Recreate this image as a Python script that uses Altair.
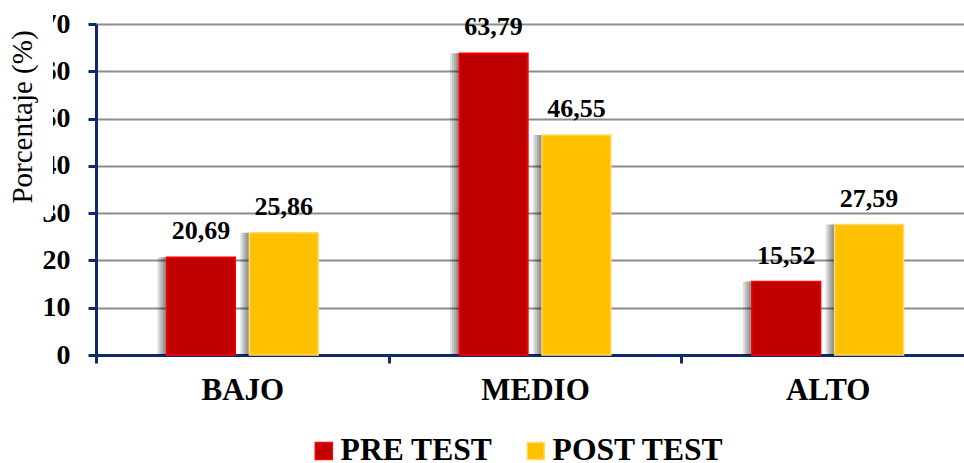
import altair as alt
import pandas as pd

# Niveles y series
niveles = ["BAJO", "MEDIO", "ALTO"]
series = ["PRE TEST", "POST TEST"]
pre_test = [20.69, 63.79, 15.52]
post_test = [25.86, 46.55, 27.59]
y_ticks = [0, 10, 20, 30, 40, 50, 60, 70]

colores_relleno = ["#C00000", "#FFC000"]
colores_borde = ["#FF0000", "#FFD966"]

FONT = "Liberation Serif"
NAVY = "#0E2A6B"

rows = []
for i, n in enumerate(niveles):
    rows.append({"nivel": n, "serie": series[0], "valor": pre_test[i]})
    rows.append({"nivel": n, "serie": series[1], "valor": post_test[i]})
df = pd.DataFrame(rows)

x_enc = alt.X(
    "nivel:N",
    sort=niveles,
    scale=alt.Scale(domain=niveles, paddingInner=0, paddingOuter=0, range=[0, 878]),
    axis=alt.Axis(
        title=None,
        labelAngle=0,
        domainColor=NAVY,
        domainWidth=3,
        tickColor=NAVY,
        tickWidth=3,
        tickSize=8,
        tickBand="extent",
        labelFont=FONT,
        labelFontSize=31,
        labelFontWeight="bold",
        labelColor="black",
        labelPadding=12,
    ),
)


def desplazamiento(align):
    # series offset inside each band; align < 0.5 slides the pair to the left
    return alt.XOffset(
        "serie:N",
        sort=series,
        scale=alt.Scale(domain=series, paddingInner=0.17, paddingOuter=0.85, align=align),
    )


xoff_enc = desplazamiento(0.5)
y_enc = alt.Y(
    "valor:Q",
    scale=alt.Scale(domain=[0, 70], nice=False),
    axis=alt.Axis(
        title=None,
        values=y_ticks,
        grid=True,
        gridColor="#8C8C8C",
        gridWidth=2,
        domainColor=NAVY,
        domainWidth=3,
        tickColor=NAVY,
        tickWidth=3,
        tickSize=8,
        labelPadding=18,
        labelFont=FONT,
        labelFontSize=28,
        labelFontWeight="bold",
        labelColor="black",
    ),
)

leyenda = alt.Legend(
    title=None,
    orient="none",
    direction="horizontal",
    legendX=212,
    legendY=411,
    symbolType="square",
    symbolSize=289,
    symbolStrokeWidth=1.5,
    labelFont=FONT,
    labelFontSize=31.6,
    labelFontWeight="bold",
    labelColor="black",
    labelOffset=1,
    labelLimit=400,
    columnPadding=27,
    padding=0,
)

base = alt.Chart(df)

# soft drop shadow on the left side of each bar (each pixel shift ~ 1/140 of align)
sombras = alt.layer(*[
    base.mark_bar(color="black", opacity=0.12).encode(
        x=x_enc, xOffset=desplazamiento(0.5 - off / 140.0), y=y_enc
    )
    for off in [9, 7, 5, 3]
]).resolve_scale(xOffset="independent")

barras = base.mark_bar(strokeWidth=1.5).encode(
    x=x_enc,
    xOffset=xoff_enc,
    y=y_enc,
    fill=alt.Fill("serie:N", sort=series,
                  scale=alt.Scale(domain=series, range=colores_relleno), legend=leyenda),
    stroke=alt.Stroke("serie:N", sort=series,
                      scale=alt.Scale(domain=series, range=colores_borde), legend=leyenda),
)

etiquetas = base.transform_calculate(
    etiqueta="replace(format(datum.valor, '.2f'), '.', ',')"
).mark_text(
    font=FONT, fontSize=26, fontWeight="bold", baseline="alphabetic", dy=-18, color="black"
).encode(x=x_enc, xOffset=xoff_enc, y=y_enc, text="etiqueta:N")

principal = alt.layer(barras, etiquetas)

# axis title box, drawn over the tick labels
uno = alt.Data(values=[{"k": 1}])
caja = alt.Chart(uno).mark_rect(color="white").encode(
    x=alt.value(-96), x2=alt.value(-43), y=alt.value(-24), y2=alt.value(192)
)
titulo = alt.Chart(uno).mark_text(
    text="Porcentaje (%)", angle=270, font=FONT, fontSize=29,
    align="center", baseline="middle", color="black",
).encode(x=alt.value(-73), y=alt.value(93))

chart = alt.layer(sombras, principal, caja, titulo).resolve_scale(
    xOffset="independent"
).properties(
    width=868,
    height=331,
    autosize=alt.AutoSizeParams(type="none"),
    padding={"left": 96, "top": 24, "right": 0, "bottom": 108},
    background="white",
).configure_view(stroke=None)

chart.save("out.html", embed_options={"renderer": "svg", "actions": False})
